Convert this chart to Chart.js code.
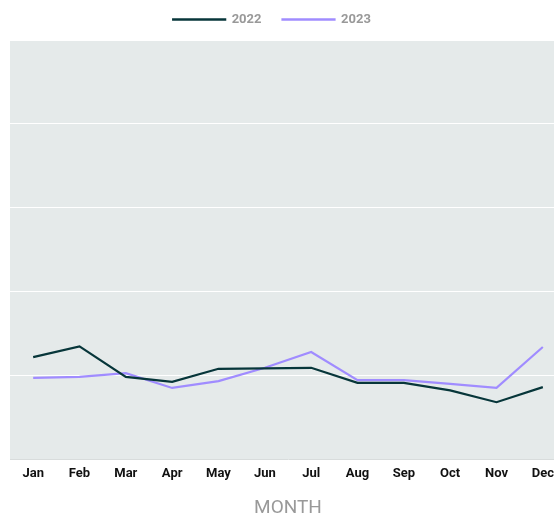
<!DOCTYPE html>
<html lang="en">
<head>
  <meta charset="UTF-8">
  <title>Monthly comparison</title>
  <script src="https://cdn.jsdelivr.net/npm/chart.js"></script>
  <style>
    html, body { margin: 0; padding: 0; background: #fff; overflow: hidden; }
    #wrap { width: 566px; height: 518px; }
  </style>
</head>
<body>
  <div id="wrap"><canvas id="chart" width="566" height="518"></canvas></div>

  <script>
    // chart data
    const months = ['Jan', 'Feb', 'Mar', 'Apr', 'May', 'Jun', 'Jul', 'Aug', 'Sep', 'Oct', 'Nov', 'Dec'];
    const values2022 = [61, 67.4, 49.2, 46.2, 54, 54.2, 54.6, 45.6, 45.6, 41.1, 34.1, 43.1];
    const values2023 = [48.6, 49.2, 51.4, 42.6, 46.7, 54.6, 64, 47.2, 47.2, 45, 42.6, 67];

    // grey plot background
    const plotBackground = {
      id: 'plotBackground',
      beforeDraw(chart) {
        const { ctx, chartArea } = chart;
        ctx.save();
        ctx.fillStyle = '#e5eaea';
        ctx.fillRect(chartArea.left, chartArea.top, chartArea.right - chartArea.left, chartArea.bottom - chartArea.top);
        ctx.restore();
      }
    };

    // legend: fixed height, nudged up and left
    const legendPlacement = {
      id: 'legendPlacement',
      beforeInit(chart) {
        const legend = chart.legend;
        const fit = legend.fit;
        legend.fit = function () {
          fit.call(this);
          this.height = 40;
        };
      },
      afterLayout(chart) {
        const legend = chart.legend;
        legend.top -= 8;
        legend.bottom -= 8;
        legend.left -= 16;
        legend.right -= 16;
      }
    };

    const ctx = document.getElementById('chart').getContext('2d');
    new Chart(ctx, {
      type: 'line',
      data: {
        labels: months,
        datasets: [
          { label: '2022', data: values2022, borderColor: '#07363a', backgroundColor: '#07363a', borderWidth: 2.2, pointRadius: 0, tension: 0 },
          { label: '2023', data: values2023, borderColor: '#a08cff', backgroundColor: '#a08cff', borderWidth: 2.2, pointRadius: 0, tension: 0 }
        ]
      },
      options: {
        responsive: false,
        animation: false,
        layout: { padding: { left: 10, right: 0, top: 0, bottom: 0 } },
        plugins: {
          legend: {
            position: 'top',
            labels: {
              boxWidth: 52,
              boxHeight: 0.5,
              padding: 21,
              color: '#999',
              font: { family: 'Roboto', size: 13, weight: 'bold' }
            }
          },
          tooltip: { enabled: false }
        },
        scales: {
          x: {
            offset: true,
            grid: { display: false, drawTicks: false },
            border: { color: '#d8dcdc' },
            ticks: { color: '#111', padding: 7, maxRotation: 0, font: { family: 'Roboto', size: 13, weight: 'bold' } },
            title: { display: true, text: 'MONTH', color: '#999', padding: { top: 10, bottom: 0 }, font: { family: 'Roboto', size: 19, lineHeight: 1 } }
          },
          y: {
            min: 0,
            max: 250,
            ticks: { display: false, stepSize: 50 },
            grid: { color: '#ffffff', lineWidth: 1, drawTicks: false },
            border: { display: false }
          }
        }
      },
      plugins: [plotBackground, legendPlacement]
    });
  </script>
</body>
</html>
